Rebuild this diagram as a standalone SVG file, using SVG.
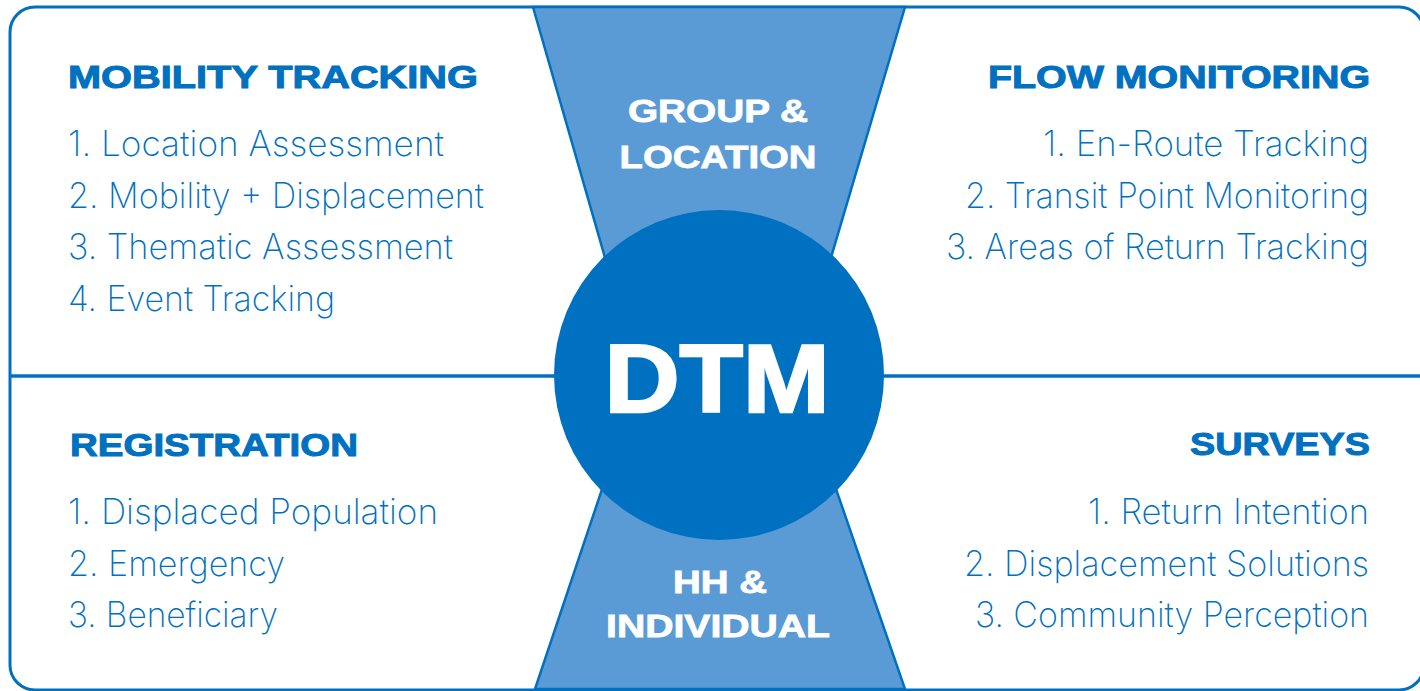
<svg xmlns="http://www.w3.org/2000/svg" width="1420" height="691" viewBox="0 0 1420 691">
<style>
.frame{fill:#ffffff;stroke:#0070C0;stroke-width:3}
.div{stroke:#0070C0;stroke-width:3.5;fill:none}
.trap{fill:#5B9BD5;stroke:#0070C0;stroke-width:2.5}
.hub{fill:#0070C0}
.head{font-family:"Liberation Sans",Arial,sans-serif;font-weight:bold;font-size:32px;fill:#0070C0;stroke:#0070C0;stroke-width:1}
.white{font-family:"Liberation Sans",Arial,sans-serif;font-weight:bold;font-size:32px;fill:#ffffff;stroke:#ffffff;stroke-width:0.8}
.dtm{font-family:"Liberation Sans",Arial,sans-serif;font-weight:bold;font-size:97px;fill:#ffffff;stroke:#ffffff;stroke-width:2.5}
.item{font-family:Inter,Roboto,"Liberation Sans",Arial,sans-serif;font-weight:200;font-size:35px;fill:#0070C0}
.r{text-anchor:end}
</style>
<rect class="frame" x="10" y="7" width="1414" height="683" rx="25" ry="25"/>
<g id="connectors">
<line class="div" x1="10" y1="376" x2="600" y2="376"/>
<line class="div" x1="840" y1="376" x2="1420" y2="376"/>
</g>
<g id="group-location">
<polygon class="trap" points="533,7 905,7 796,376 639,376"/>
<text class="white" x="718" y="122" text-anchor="middle" textLength="180" lengthAdjust="spacingAndGlyphs">GROUP &amp;</text>
<text class="white" x="718" y="168" text-anchor="middle" textLength="197" lengthAdjust="spacingAndGlyphs">LOCATION</text>
</g>
<g id="hh-individual">
<polygon class="trap" points="535,689 905,689 797,376 640,376"/>
<text class="white" x="720" y="593" text-anchor="middle" textLength="94" lengthAdjust="spacingAndGlyphs">HH &amp;</text>
<text class="white" x="718" y="637" text-anchor="middle" textLength="224" lengthAdjust="spacingAndGlyphs">INDIVIDUAL</text>
</g>
<g id="dtm">
<circle class="hub" cx="719" cy="375" r="165"/>
<text class="dtm" x="717" y="412" text-anchor="middle" textLength="225" lengthAdjust="spacingAndGlyphs">DTM</text>
</g>
<g id="mobility-tracking">
<text class="head" x="68" y="88" textLength="410" lengthAdjust="spacingAndGlyphs">MOBILITY TRACKING</text>
<text class="item" x="68" y="156" textLength="376" lengthAdjust="spacingAndGlyphs">1. Location Assessment</text>
<text class="item" x="68" y="208" textLength="416" lengthAdjust="spacingAndGlyphs">2. Mobility + Displacement</text>
<text class="item" x="68" y="259" textLength="385" lengthAdjust="spacingAndGlyphs">3. Thematic Assessment</text>
<text class="item" x="68" y="311" textLength="267" lengthAdjust="spacingAndGlyphs">4. Event Tracking</text>
</g>
<g id="flow-monitoring">
<text class="head r" x="1370" y="88" textLength="382" lengthAdjust="spacingAndGlyphs">FLOW MONITORING</text>
<text class="item r" x="1369" y="156" textLength="326" lengthAdjust="spacingAndGlyphs">1. En-Route Tracking</text>
<text class="item r" x="1369" y="208" textLength="404" lengthAdjust="spacingAndGlyphs">2. Transit Point Monitoring</text>
<text class="item r" x="1369" y="259" textLength="423" lengthAdjust="spacingAndGlyphs">3. Areas of Return Tracking</text>
</g>
<g id="registration">
<text class="head" x="70" y="456" textLength="288" lengthAdjust="spacingAndGlyphs">REGISTRATION</text>
<text class="item" x="68" y="524" textLength="370" lengthAdjust="spacingAndGlyphs">1. Displaced Population</text>
<text class="item" x="68" y="576" textLength="217" lengthAdjust="spacingAndGlyphs">2. Emergency</text>
<text class="item" x="68" y="627" textLength="210" lengthAdjust="spacingAndGlyphs">3. Beneficiary</text>
</g>
<g id="surveys">
<text class="head r" x="1370" y="455" textLength="180" lengthAdjust="spacingAndGlyphs">SURVEYS</text>
<text class="item r" x="1369" y="524" textLength="281" lengthAdjust="spacingAndGlyphs">1. Return Intention</text>
<text class="item r" x="1369" y="576" textLength="405" lengthAdjust="spacingAndGlyphs">2. Displacement Solutions</text>
<text class="item r" x="1369" y="627" textLength="394" lengthAdjust="spacingAndGlyphs">3. Community Perception</text>
</g>
</svg>
